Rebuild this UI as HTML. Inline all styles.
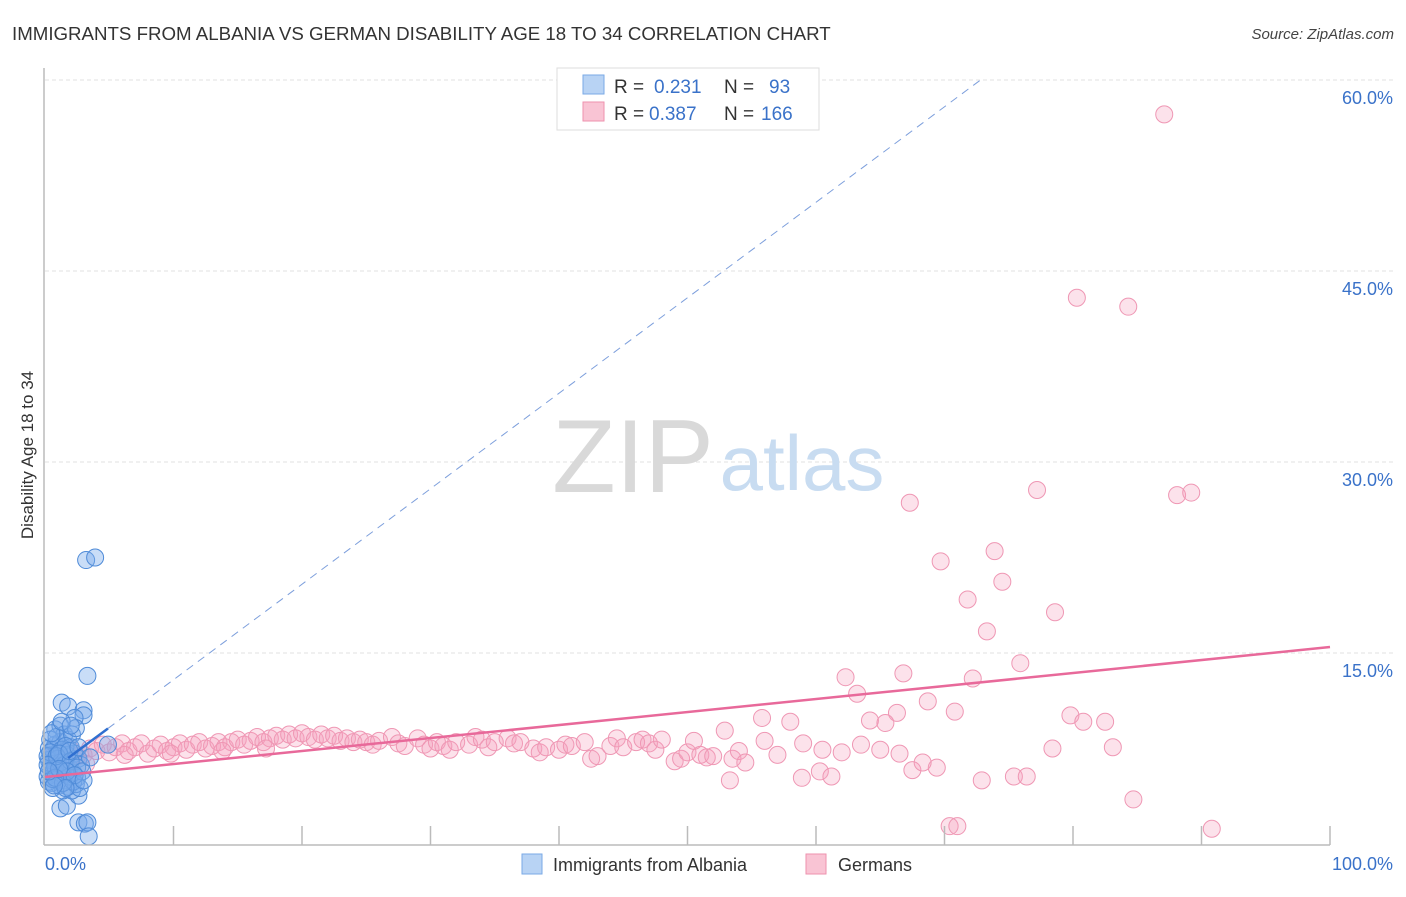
<!DOCTYPE html>
<html><head><meta charset="utf-8">
<style>
body{margin:0;background:#fff;font-family:"Liberation Sans",sans-serif;}
svg text{font-family:"Liberation Sans",sans-serif;}
</style></head>
<body>
<svg id="chart" width="1406" height="892" viewBox="0 0 1406 892" xmlns="http://www.w3.org/2000/svg">
<text x="12" y="40" font-size="18.7" fill="#333">IMMIGRANTS FROM ALBANIA VS GERMAN DISABILITY AGE 18 TO 34 CORRELATION CHART</text>
<text x="1394" y="39" font-size="15" fill="#444" text-anchor="end" font-style="italic">Source: ZipAtlas.com</text>
<g id="grid"></g>
<g>
<text x="633" y="492" font-size="104" fill="#d9d9d9" text-anchor="middle" font-family="Liberation Serif, serif">ZIP</text>
<text x="802" y="490" font-size="78" fill="#c8dcf1" text-anchor="middle">atlas</text>
</g>
<g id="pinkpts"></g>
<g id="bluepts"></g>
<g id="trends"></g>
<g id="axes"></g>
<text transform="translate(33,455) rotate(-90)" font-size="17" fill="#333" text-anchor="middle">Disability Age 18 to 34</text>
<g>
<rect x="557" y="68" width="262" height="62" fill="#fff" stroke="#ddd"/>
<rect x="583" y="75" width="21" height="19" fill="#b8d3f4" stroke="#7aaae6"/>
<rect x="583" y="102" width="21" height="19" fill="#f9c4d4" stroke="#ee92ae"/>
<text x="614" y="93" font-size="19" fill="#333">R = </text><text x="654" y="93" font-size="19" fill="#3a72c9">0.231</text>
<text x="724" y="93" font-size="19" fill="#333">N = </text><text x="769" y="93" font-size="19" fill="#3a72c9">93</text>
<text x="614" y="120" font-size="19" fill="#333">R = </text><text x="649" y="120" font-size="19" fill="#3a72c9">0.387</text>
<text x="724" y="120" font-size="19" fill="#333">N = </text><text x="761" y="120" font-size="19" fill="#3a72c9">166</text>
</g>
<g>
<rect x="522" y="854" width="20" height="20" fill="#b8d3f4" stroke="#7aaae6"/>
<text x="553" y="871" font-size="18" fill="#333">Immigrants from Albania</text>
<rect x="806" y="854" width="20" height="20" fill="#f9c4d4" stroke="#ee92ae"/>
<text x="838" y="871" font-size="18" fill="#333">Germans</text>
</g>
</svg>
<script>
const yTicks=[15,30,45,60];
const yTickLabels=["15.0%","30.0%","45.0%","60.0%"];
const xTickLabels=["0.0%","100.0%"];
const blueTrend=[5.4,0.75];
const pinkTrend=[5.26,0.1021];
const bluePts=[[3.2,22.3],[3.9,22.5],[3.3,13.2],[1.3,11.1],[1.8,10.8],[3.0,10.5],[3.0,10.1],[2.3,9.9],[0.8,9.0],[1.2,9.3],[4.9,7.8],[2.6,1.7],[3.1,1.6],[3.3,1.7],[3.4,0.6],[1.2,2.8],[1.7,3.0],[2.6,3.8],
[0.3,7.5],[0.5,7.0],[0.7,6.5],[0.4,6.0],[0.6,5.5],[0.9,5.0],[1.1,4.6],[1.4,4.2],[0.5,4.8],[0.8,7.8],[1.0,7.2],[1.3,6.8],[1.6,6.4],[1.9,6.0],[2.2,5.6],[2.5,5.2],[1.5,5.0],[1.8,4.5],[2.1,4.2],[2.4,4.7],[0.2,5.3],[0.3,6.6],[0.6,7.4],[1.2,8.0],[1.5,8.6],[1.8,8.2],[2.0,7.6],[2.3,7.1],[2.6,6.7],[2.8,6.2],[0.4,8.2],[0.9,8.4],[1.1,6.0],[1.4,5.6],[0.7,5.8],[1.0,5.4],[1.7,7.0],[2.1,8.6],[2.4,9.1],[0.2,6.9],[0.5,6.3],[0.8,6.1],[1.3,7.4],[1.6,7.7],[1.9,5.3],[2.2,4.9],[2.7,4.4],[0.3,4.9],[0.6,4.4],[1.0,6.7],[1.2,6.4],[1.5,6.2],[0.4,7.2],[0.9,6.9],[1.1,7.1],[2.0,6.5],[2.5,6.0],[2.9,5.7],[0.6,5.1],[1.4,4.8],[1.7,5.7],[2.3,5.4],[0.2,6.2],[0.8,5.2],[1.9,7.3],[2.6,7.6],[3.5,6.8],[0.5,8.7],[1.3,9.6],[2.0,9.3],[1.6,4.4],[0.7,4.6],[3.0,5.0],[1.1,5.9],[0.3,5.7]];
const pinkPts=[[87.1,57.3],[80.3,42.9],[84.3,42.2],[67.3,26.8],[77.2,27.8],[88.1,27.4],[89.2,27.6],[69.7,22.2],[73.9,23.0],[74.5,20.6],[71.8,19.2],[78.6,18.2],[73.3,16.7],[75.9,14.2],[62.3,13.1],[66.8,13.4],[72.2,13.0],[63.2,11.8],[68.7,11.2],[66.3,10.3],[64.2,9.7],[65.4,9.5],[70.8,10.4],[79.8,10.1],[80.8,9.6],[82.5,9.6],[55.8,9.9],[58.0,9.6],[52.9,8.9],[78.4,7.5],[83.1,7.6],[67.5,5.8],[69.4,6.0],[68.3,6.4],[72.9,5.0],[75.4,5.3],[76.4,5.3],[58.9,5.2],[60.3,5.7],[61.2,5.3],[53.3,5.0],[84.7,3.5],[70.4,1.4],[71.0,1.4],[90.8,1.2],
[0.5,6.8],[1.0,7.2],[1.5,6.6],[2.0,7.4],[2.5,6.9],[3.0,7.0],[3.5,7.5],[4.0,7.3],[4.5,7.8],[5.0,7.2],[5.5,7.6],[6.0,7.9],[6.5,7.3],[7.0,7.6],[7.5,7.9],[8.0,7.1],[8.5,7.5],[9.0,7.8],[9.5,7.3],[10.0,7.6],[10.5,7.9],[11.0,7.4],[11.5,7.8],[12.0,8.0],[12.5,7.5],[13.0,7.7],[13.5,8.0],[14.0,7.6],[14.5,8.0],[15.0,8.2],[15.5,7.8],[16.0,8.1],[16.5,8.4],[17.0,8.0],[17.5,8.3],[18.0,8.5],[18.5,8.2],[19.0,8.6],[19.5,8.3],[20.0,8.7],[20.5,8.4],[21.0,8.2],[21.5,8.6],[22.0,8.3],[22.5,8.5],[23.0,8.1],[23.5,8.3],[24.0,8.0],[24.5,8.2],[25.0,8.0],[25.5,7.8],[26.0,8.1],[27.0,8.4],[27.5,7.9],[28.0,7.7],[29.0,8.3],[29.5,7.8],[30.0,7.5],[30.5,8.0],[31.0,7.7],[31.5,7.4],[32.0,8.0],[33.0,7.8],[33.5,8.4],[34.0,8.2],[34.5,7.6],[35.0,8.0],[36.0,8.3],[36.5,7.9],[37.0,8.0],[38.0,7.5],[38.5,7.2],[39.0,7.6],[40.0,7.4],[40.5,7.8],[41.0,7.7],[42.0,8.0],[42.5,6.7],[43.0,6.9],[44.0,7.7],[44.5,8.3],[45.0,7.6],[46.0,8.0],[46.5,8.2],[47.0,7.9],[47.5,7.4],[48.0,8.2],[49.0,6.5],[49.5,6.7],[50.0,7.2],[50.5,8.1],[51.0,7.0],[51.5,6.8],[52.0,6.9],[53.5,6.7],[54.0,7.3],[54.5,6.4],[56.0,8.1],[57.0,7.0],[59.0,7.9],[60.5,7.4],[62.0,7.2],[63.5,7.8],[65.0,7.4],[66.5,7.1],[1.8,6.0],[3.2,6.3],[6.2,7.0],[9.8,7.1],[13.8,7.3],[17.2,7.5]];
const X0=45,X1=1330,Y0=844,PX=12.85,PY=12.733;
const sx=v=>X0+v*PX, sy=v=>Y0-v*PY;
const NS='http://www.w3.org/2000/svg';
function mk(tag,attrs,parent){const e=document.createElementNS(NS,tag);for(const k in attrs)e.setAttribute(k,attrs[k]);parent.appendChild(e);return e;}
const grid=document.getElementById('grid'),axes=document.getElementById('axes');
yTicks.forEach((t,i)=>{
 const g=mk('line',{x1:X0,x2:1394,y1:sy(t),y2:sy(t),stroke:'#e2e2e2','stroke-dasharray':'4,3'},grid);
 
 
 const tx=mk('text',{x:1393,y:sy(t)+24,'font-size':18,fill:'#3a72c9','text-anchor':'end'},axes);
 tx.textContent=yTickLabels[i];
 
 
});
const yax=mk('line',{x1:X0-1,x2:X0-1,y1:68,y2:Y0+1,stroke:'#bbb','stroke-width':1.5},axes);


const xax=mk('line',{x1:X0-1,x2:X1,y1:Y0+1,y2:Y0+1,stroke:'#bbb','stroke-width':1.5},axes);


for(let i=1;i<=10;i++){
 const tk=mk('line',{x1:sx(i*10),x2:sx(i*10),y1:826,y2:Y0+1,stroke:'#bbb','stroke-width':1.5},axes);
 
 
}
[[0,'start',45],[100,'end',1393]].forEach((d,i)=>{
 const t=mk('text',{x:d[2],y:870,'font-size':18,fill:'#3a72c9','text-anchor':d[1]},axes);
 t.textContent=xTickLabels[i];
 
 
});
const pg=document.getElementById('pinkpts');
pinkPts.forEach(p=>{
 const c=mk('circle',{cx:sx(p[0]),cy:sy(p[1]),r:8.5,fill:'rgba(246,160,188,0.3)',stroke:'#ef97b4','stroke-width':1},pg);
 
 
});
const bg=document.getElementById('bluepts');
bluePts.forEach(p=>{
 const c=mk('circle',{cx:sx(p[0]),cy:sy(p[1]),r:8.5,fill:'rgba(120,170,235,0.4)',stroke:'#4f8bd8','stroke-width':1},bg);
 
 
});
const tg=document.getElementById('trends');
const bEnd=(60-blueTrend[0])/blueTrend[1];
const bd=mk('line',{x1:sx(4.9),y1:sy(blueTrend[0]+blueTrend[1]*4.9),x2:sx(bEnd),y2:sy(60),stroke:'#7d9fdc','stroke-width':1,'stroke-dasharray':'8,6'},tg);


const bs=mk('line',{x1:sx(1.8),y1:sy(blueTrend[0]+blueTrend[1]*1.8),x2:sx(4.9),y2:sy(blueTrend[0]+blueTrend[1]*4.9),stroke:'#2f6fd0','stroke-width':2.5},tg);


const pl=mk('line',{x1:sx(0),y1:sy(pinkTrend[0]),x2:sx(100),y2:sy(pinkTrend[0]+pinkTrend[1]*100),stroke:'#e8699a','stroke-width':2.5},tg);


</script>
</body></html>
